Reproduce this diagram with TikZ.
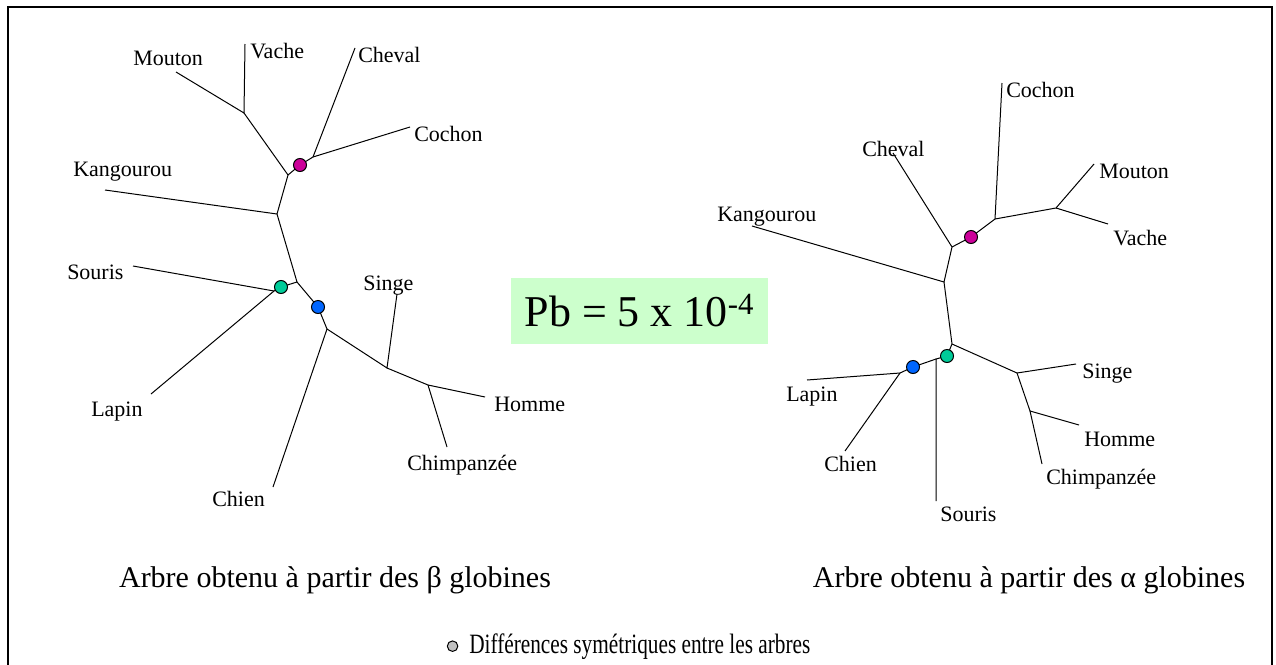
\documentclass[tikz,border=0pt]{standalone}
\usepackage{fontspec}
\setmainfont{Liberation Serif}
\newfontfamily\legendfont[FakeStretch=0.76]{Liberation Serif}
\usetikzlibrary{positioning}
\definecolor{dotmag}{RGB}{204,0,153}
\definecolor{dotgreen}{RGB}{0,204,153}
\definecolor{dotblue}{RGB}{0,102,255}
\definecolor{dotgray}{RGB}{192,192,192}
\definecolor{pbgreen}{RGB}{204,255,204}

\begin{document}
\begin{tikzpicture}[
  x=0.75pt, y=-0.75pt,
  br/.style={line width=0.75pt},
  lbl/.style={anchor=base west, inner sep=0pt, font=\fontsize{16.5}{18}\selectfont},
  dot/.style={circle, draw, line width=0.75pt, minimum size=9.75pt, inner sep=0pt},
  capt/.style={anchor=base, inner sep=0pt, font=\fontsize{22.5}{26}\selectfont}
]
\useasboundingbox (0,0) rectangle (1276,664);
\draw[line width=1.5pt] (7.5,690) -- (7.5,7) -- (1272,7) -- (1272,690);

% beta tree
\coordinate (bMou) at (176,72);
\coordinate (bVac) at (245,44);
\coordinate (bMV) at (244,113);
\coordinate (bA) at (288,175);
\coordinate (bX1) at (300,165);
\coordinate (bB) at (313,157);
\coordinate (bChv) at (355,48);
\coordinate (bCoc) at (410,127);
\coordinate (bC) at (277,214);
\coordinate (bKan) at (105,190);
\coordinate (bD) at (297,282);
\coordinate (bX2) at (281,287);
\coordinate (bF) at (274,291);
\coordinate (bSou) at (133,266);
\coordinate (bLap) at (151,394);
\coordinate (bX3) at (318,307);
\coordinate (bE) at (327,329);
\coordinate (bChi) at (273,487);
\coordinate (bG) at (387,368);
\coordinate (bSin) at (397,294);
\coordinate (bH) at (428,385);
\coordinate (bHom) at (485,397);
\coordinate (bChp) at (447,447);

\draw[br] (bMou) -- (bMV) -- (bVac);
\draw[br] (bMV) -- (bA) -- (bC) -- (bKan);
\draw[br] (bA) -- (bX1) -- (bB) -- (bChv);
\draw[br] (bB) -- (bCoc);
\draw[br] (bC) -- (bD) -- (bX2) -- (bF) -- (bSou);
\draw[br] (bF) -- (bLap);
\draw[br] (bD) -- (bX3) -- (bE) -- (bChi);
\draw[br] (bE) -- (bG) -- (bSin);
\draw[br] (bG) -- (bH) -- (bHom);
\draw[br] (bH) -- (bChp);

\node[dot, fill=dotmag] (bP1) at (bX1) {};
\node[dot, fill=dotgreen] (bP2) at (bX2) {};
\node[dot, fill=dotblue] (bP3) at (bX3) {};

\node[lbl] (bMouL) at (133,65) {Mouton};
\node[lbl] (bVacL) at (250,58) {Vache};
\node[lbl] (bChvL) at (358,62) {Cheval};
\node[lbl] (bCocL) at (414,141) {Cochon};
\node[lbl] (bKanL) at (73,176) {Kangourou};
\node[lbl] (bSouL) at (67,279) {Souris};
\node[lbl] (bLapL) at (91,416) {Lapin};
\node[lbl] (bSinL) at (363,290) {Singe};
\node[lbl] (bHomL) at (494,411) {Homme};
\node[lbl] (bChpL) at (407,470) {Chimpanzée};
\node[lbl] (bChiL) at (212,506) {Chien};

% alpha tree
\coordinate (aKan) at (752,226);
\coordinate (aK) at (944,282);
\coordinate (aL) at (952,247);
\coordinate (aChv) at (893,153);
\coordinate (aX1) at (971,237);
\coordinate (aM) at (995,219);
\coordinate (aCoc) at (1002,83);
\coordinate (aN) at (1056,208);
\coordinate (aMou) at (1094,164);
\coordinate (aVac) at (1108,224);
\coordinate (aP) at (952,344);
\coordinate (aX2) at (947,356);
\coordinate (aS) at (936,359);
\coordinate (aSou) at (936,501);
\coordinate (aX3) at (913,367);
\coordinate (aT) at (900,373);
\coordinate (aLap) at (807,380);
\coordinate (aChi) at (845,451);
\coordinate (aQ) at (1017,373);
\coordinate (aSin) at (1076,364);
\coordinate (aR) at (1030,411);
\coordinate (aHom) at (1079,425);
\coordinate (aChp) at (1042,464);

\draw[br] (aKan) -- (aK) -- (aL) -- (aChv);
\draw[br] (aL) -- (aX1) -- (aM) -- (aCoc);
\draw[br] (aM) -- (aN) -- (aMou);
\draw[br] (aN) -- (aVac);
\draw[br] (aK) -- (aP) -- (aX2) -- (aS) -- (aSou);
\draw[br] (aS) -- (aX3) -- (aT) -- (aLap);
\draw[br] (aT) -- (aChi);
\draw[br] (aP) -- (aQ) -- (aSin);
\draw[br] (aQ) -- (aR) -- (aHom);
\draw[br] (aR) -- (aChp);

\node[dot, fill=dotmag] (aP1) at (aX1) {};
\node[dot, fill=dotgreen] (aP2) at (aX2) {};
\node[dot, fill=dotblue] (aP3) at (aX3) {};

\node[lbl] (aKanL) at (717,221) {Kangourou};
\node[lbl] (aChvL) at (862,156) {Cheval};
\node[lbl] (aCocL) at (1006,97) {Cochon};
\node[lbl] (aMouL) at (1099,178) {Mouton};
\node[lbl] (aVacL) at (1113,245) {Vache};
\node[lbl] (aSinL) at (1082,378) {Singe};
\node[lbl] (aHomL) at (1084,446) {Homme};
\node[lbl] (aChpL) at (1046,484) {Chimpanzée};
\node[lbl] (aLapL) at (786,401) {Lapin};
\node[lbl] (aChiL) at (824,471) {Chien};
\node[lbl] (aSouL) at (940,521) {Souris};

% probability
\node[fill=pbgreen, minimum width=192.75pt, minimum height=49.5pt, inner sep=0pt,
  font=\fontsize{33}{38}\selectfont] (pb) at (639.5,311) {Pb = 5 x 10\textsuperscript{-4}};

\node[capt] (capB) at (335,587) {Arbre obtenu à partir des β globines};
\node[capt] (capA) at (1029,587) {Arbre obtenu à partir des α globines};

\node[capt, anchor=base west, font=\legendfont\fontsize{21}{25}\selectfont] (legend) at (469,653)
  {Différences symétriques entre les arbres};
\node[dot, fill=dotgray, minimum size=7.9pt, left=8pt of legend] (key) {};
\end{tikzpicture}
\end{document}
